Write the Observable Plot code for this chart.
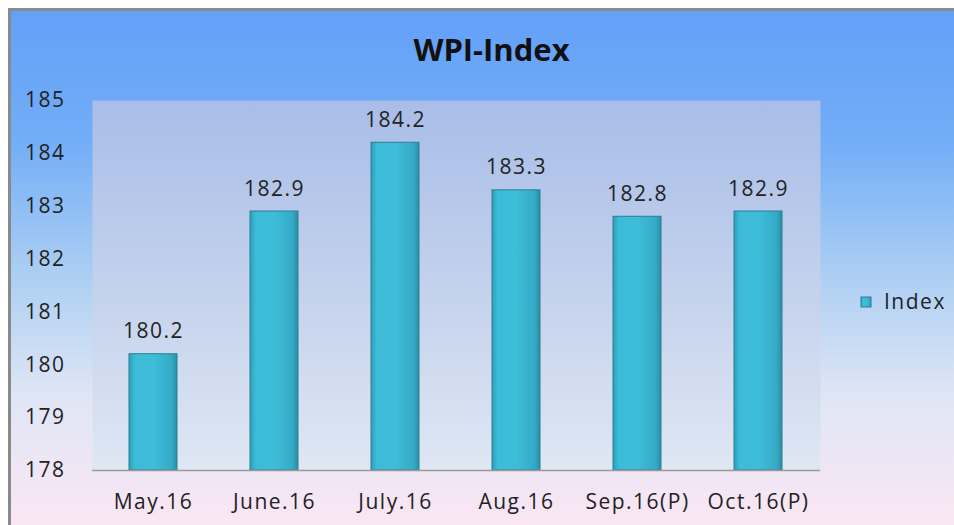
<!DOCTYPE html>
<html>
<head>
<meta charset="utf-8">
<script src="https://cdn.jsdelivr.net/npm/d3@7"></script>
<script src="https://cdn.jsdelivr.net/npm/@observablehq/plot@0.6"></script>
<style>
  html, body { margin: 0; padding: 0; background: #fff; }
  #wrap { position: relative; width: 954px; height: 525px; overflow: hidden; }
  #bg { position: absolute; left: 8px; top: 8px; width: 946px; height: 517px;
        box-sizing: border-box; border-left: 3px solid #8a8a8a; border-top: 3px solid #8a8a8a;
        background: linear-gradient(to bottom, #63a0f8 0%, #72adf7 25%, #a9cdf3 50%, #dfe6f5 75%, #fbe6f4 100%); }
  #chart { position: absolute; left: 0; top: 0; }
  svg { font-family: "Open Sans", sans-serif; }
  svg text { letter-spacing: 1.5px; }
  svg text.title { letter-spacing: 0; }
</style>
</head>
<body>
<div id="wrap"><div id="bg"></div><div id="chart"></div></div>
<script>
const months = ["May.16", "June.16", "July.16", "Aug.16", "Sep.16(P)", "Oct.16(P)"];
const values = [180.2, 182.9, 184.2, 183.3, 182.8, 182.9];
const yTicks = [178, 179, 180, 181, 182, 183, 184, 185];
const seriesName = "Index";
const title = "WPI-Index";

const data = months.map((m, i) => ({month: m, value: values[i]}));

const plot = Plot.plot({
  width: 954,
  height: 525,
  marginLeft: 92,
  marginRight: 134,
  marginTop: 100,
  marginBottom: 55,
  style: {background: "transparent", fontFamily: "Open Sans, sans-serif", color: "#222"},
  x: {domain: months, paddingInner: 0.6, paddingOuter: 0.3},
  y: {domain: [178, 185]},
  marks: [
    Plot.frame({fill: "url(#plotGrad)", stroke: "none"}),
    Plot.axisY({ticks: yTicks, tickFormat: d3.format("d"), label: null, tickSize: 0, tickPadding: 27, fontSize: 21, fill: "#222"}),
    Plot.axisX({label: null, tickSize: 0, tickPadding: 24, fontSize: 21, fill: "#222"}),
    Plot.barY(data, {x: "month", y1: 178, y2: "value", fill: "url(#barGrad)", stroke: "#2a7f92", strokeWidth: 1}),
    Plot.ruleY([178], {stroke: "#9a9a9a", strokeWidth: 1.5}),
    Plot.text(data, {x: "month", y: "value", text: d => d.value.toFixed(1), lineAnchor: "bottom", dy: -16, fontSize: 21, fill: "#222"}),
    Plot.text([title], {frameAnchor: "top", lineAnchor: "middle", dx: 35, dy: -49, fontSize: 31, fontWeight: "bold", fill: "#111"}),
  ]
});

const svg = d3.select(plot);
svg.selectAll("text").filter(function() { return this.textContent === title; }).classed("title", true);
const defs = svg.insert("defs", ":first-child");
const pg = defs.append("linearGradient").attr("id", "plotGrad").attr("x1", 0).attr("y1", 0).attr("x2", 0).attr("y2", 1);
pg.append("stop").attr("offset", "0%").attr("stop-color", "#a8bde8");
pg.append("stop").attr("offset", "50%").attr("stop-color", "#c3d1ec");
pg.append("stop").attr("offset", "100%").attr("stop-color", "#dfe7f3");
const bg = defs.append("linearGradient").attr("id", "barGrad").attr("x1", 0).attr("y1", 0).attr("x2", 1).attr("y2", 0);
bg.append("stop").attr("offset", "0%").attr("stop-color", "#2f9fb8");
bg.append("stop").attr("offset", "12%").attr("stop-color", "#3cbcd8");
bg.append("stop").attr("offset", "50%").attr("stop-color", "#3ebdd9");
bg.append("stop").attr("offset", "88%").attr("stop-color", "#35abc6");
bg.append("stop").attr("offset", "100%").attr("stop-color", "#2a8ea6");

// legend (swatch + label) drawn into the svg
const lg = svg.append("g").attr("text-anchor", "start");
lg.append("rect").attr("x", 861).attr("y", 297).attr("width", 10).attr("height", 10)
  .attr("fill", "url(#barGrad)").attr("stroke", "#2a7f92");
lg.append("text").attr("x", 884).attr("y", 309).attr("font-size", 21).attr("fill", "#222").text(seriesName);

document.getElementById("chart").appendChild(plot);
</script>
</body>
</html>
